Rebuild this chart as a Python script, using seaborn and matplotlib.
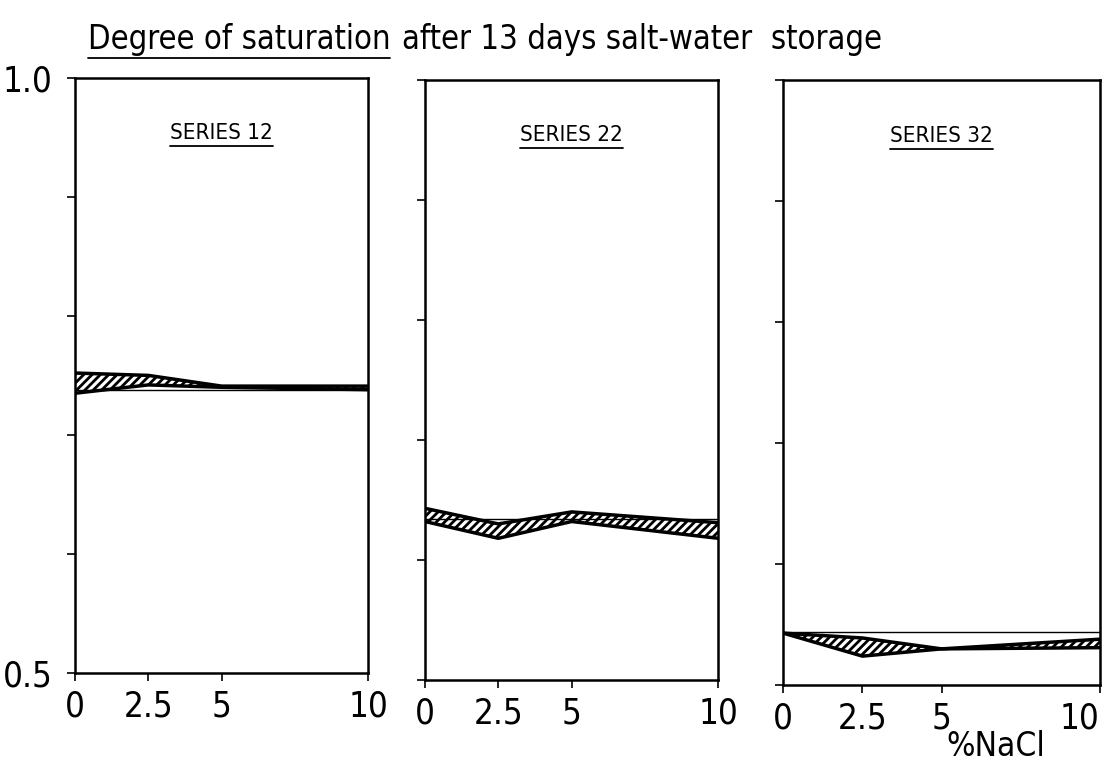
import matplotlib
matplotlib.use("Agg")
import matplotlib.pyplot as plt
import seaborn as sns
from matplotlib.lines import Line2D

# % NaCl
nacl = [0, 2.5, 5, 10]

# degree of saturation, upper and lower edge of the band per series
s12_upper = [0.752, 0.750, 0.741, 0.741]
s12_lower = [0.735, 0.742, 0.740, 0.738]
s12_ref = 0.738

s22_upper = [0.643, 0.630, 0.640, 0.631]
s22_lower = [0.632, 0.618, 0.632, 0.618]
s22_ref = 0.634

s32_upper = [0.543, 0.539, 0.530, 0.538]
s32_lower = [0.543, 0.524, 0.530, 0.531]
s32_ref = 0.544

titles = ["SERIES 12", "SERIES 22", "SERIES 32"]
xtick_labels = ["0", "2.5", "5", "10"]

sns.set_style("ticks")
plt.rcParams["font.family"] = ["DejaVu Sans"]
plt.rcParams["font.stretch"] = "condensed"
plt.rcParams["hatch.linewidth"] = 2.0
plt.rcParams["text.color"] = "black"
plt.rcParams["xtick.color"] = "black"
plt.rcParams["ytick.color"] = "black"
plt.rcParams["axes.edgecolor"] = "black"

fig = plt.figure(figsize=(11.11, 7.63), dpi=100)
positions = [
    [0.0675, 0.118, 0.264, 0.780],
    [0.3825, 0.109, 0.264, 0.786],
    [0.705, 0.102, 0.285, 0.793],
]
bands = [(s12_upper, s12_lower, s12_ref),
         (s22_upper, s22_lower, s22_ref),
         (s32_upper, s32_lower, s32_ref)]

for i, (pos, (up, lo, ref)) in enumerate(zip(positions, bands)):
    ax = fig.add_axes(pos)
    ax.fill_between(nacl, lo, up, facecolor="white", edgecolor="black",
                    hatch="////", linewidth=0)
    sns.lineplot(x=nacl, y=up, color="black", lw=2.5, ax=ax)
    sns.lineplot(x=nacl, y=lo, color="black", lw=2.5, ax=ax)
    ax.axhline(ref, color="black", lw=1.0)
    ax.set_xlim(0, 10)
    ax.set_ylim(0.5, 1.0)
    ax.set_xticks(nacl)
    ax.set_xticklabels(xtick_labels, fontsize=25)
    if i == 2:
        ax.get_xticklabels()[-1].set_horizontalalignment("right")
        ax.get_xticklabels()[-1].set_x(10.15)
    ax.set_yticks([0.5, 0.6, 0.7, 0.8, 0.9, 1.0])
    if i == 0:
        ax.set_yticklabels(["0.5", "", "", "", "", "1.0"], fontsize=25)
    else:
        ax.set_yticklabels([])
    ax.tick_params(axis="both", direction="out", length=6, width=1.2)
    ax.tick_params(axis="x", pad=6)
    ax.tick_params(axis="y", pad=10)
    for sp in ax.spines.values():
        sp.set_visible(True)
        sp.set_linewidth(1.8)
    ax.text(0.5, 0.908, titles[i], transform=ax.transAxes, ha="center",
            va="center", fontsize=16)
    ax.set_xlabel("")
    ax.set_ylabel("")

fig.text(0.896, 0.021, "%NaCl", ha="center", va="center", fontsize=24)

title1 = fig.text(0.079, 0.948, "Degree of saturation", ha="left",
                  va="center", fontsize=23.5)
fig.canvas.draw()
r = fig.canvas.get_renderer()
bb = title1.get_window_extent(r).transformed(fig.transFigure.inverted())
fig.text(bb.x1 + 0.01, 0.948, "after 13 days salt-water  storage",
         ha="left", va="center", fontsize=23.5)
fig.add_artist(Line2D([bb.x0, bb.x1], [bb.y0 - 0.002, bb.y0 - 0.002],
                      color="black", lw=1.3, transform=fig.transFigure))

# underline the series labels
for ax in fig.axes:
    for t in ax.texts:
        b = t.get_window_extent(r).transformed(fig.transFigure.inverted())
        fig.add_artist(Line2D([b.x0, b.x1], [b.y0 - 0.004, b.y0 - 0.004],
                              color="black", lw=1.3,
                              transform=fig.transFigure))

fig.savefig("out.png", dpi=100)
